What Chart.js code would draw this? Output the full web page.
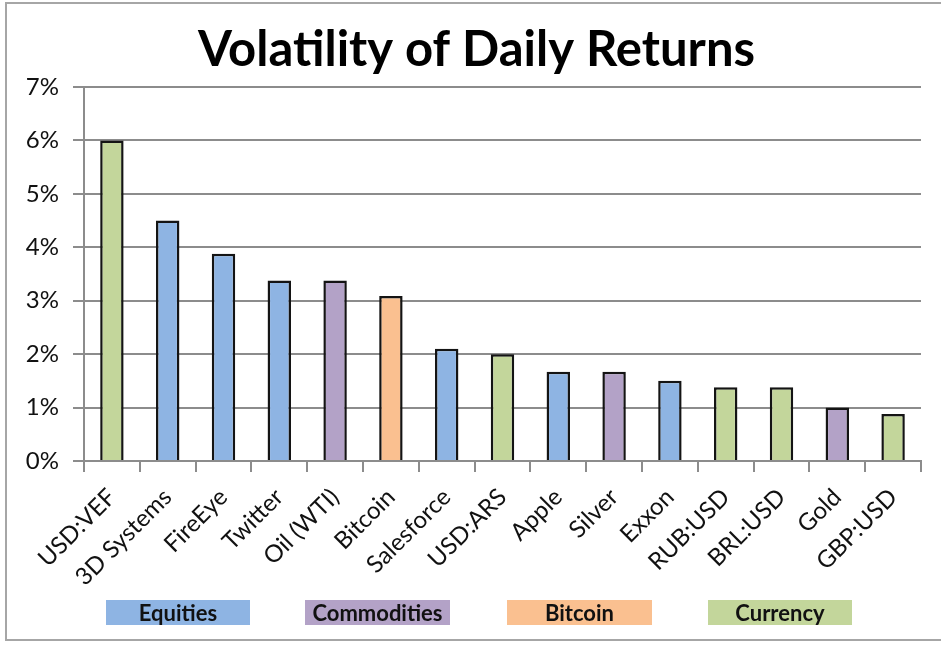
<!DOCTYPE html>
<html>
<head>
<meta charset="utf-8">
<script src="https://cdn.jsdelivr.net/npm/chart.js@4.4.1/dist/chart.umd.min.js"></script>
<style>
  html, body { margin: 0; padding: 0; background: #fff; }
  #wrap { position: relative; width: 941px; height: 645px; overflow: hidden; background: #fff; }
  #frame { position: absolute; left: 5px; top: 2px; width: 950px; height: 639px; border: 2px solid #a6a6a6; box-sizing: border-box; }
  #c { position: absolute; left: 0; top: 0; }
  .lg { position: absolute; top: 600px; height: 25px; line-height: 25px; text-align: center;
        font-family: Lato, "Open Sans", sans-serif; font-size: 22px; font-weight: bold; color: #111; white-space: nowrap; }
</style>
</head>
<body>
<div id="wrap">
  <div id="frame"></div>
  <canvas id="c" width="941" height="645"></canvas>
  <div id="legend"></div>
</div>
<script>
const categories = ["USD:VEF", "3D Systems", "FireEye", "Twitter", "Oil (WTI)", "Bitcoin", "Salesforce", "USD:ARS", "Apple", "Silver", "Exxon", "RUB:USD", "BRL:USD", "Gold", "GBP:USD"];
const volatility = [6.0, 4.5, 3.88, 3.38, 3.38, 3.09, 2.1, 2.0, 1.67, 1.67, 1.5, 1.38, 1.38, 1.0, 0.88];
const assetClass = ["Currency", "Equities", "Equities", "Equities", "Commodities", "Bitcoin", "Equities", "Currency", "Equities", "Commodities", "Equities", "Currency", "Currency", "Commodities", "Currency"];
const legendGroups = ["Equities", "Commodities", "Bitcoin", "Currency"];
const yTicks = [0, 1, 2, 3, 4, 5, 6, 7];

const groupColors = { Equities: "#8EB4E3", Commodities: "#B3A2C7", Bitcoin: "#FAC090", Currency: "#C3D69B" };
const legendPos = { Equities: [106, 144], Commodities: [305, 145], Bitcoin: [507, 145], Currency: [708, 144] };

const legend = document.getElementById("legend");
legendGroups.forEach(g => {
  const d = document.createElement("div");
  d.className = "lg";
  d.style.left = legendPos[g][0] + "px";
  d.style.width = legendPos[g][1] + "px";
  d.style.background = groupColors[g];
  d.textContent = g;
  legend.appendChild(d);
});

const FONT = "Lato, 'Open Sans', sans-serif";

new Chart(document.getElementById("c"), {
  type: "bar",
  data: {
    labels: categories,
    datasets: [{
      data: volatility,
      backgroundColor: assetClass.map(a => groupColors[a]),
      borderColor: "#141414",
      borderWidth: 2.5,
      borderSkipped: "bottom",
      barPercentage: 0.42,
      categoryPercentage: 1.0
    }]
  },
  options: {
    responsive: false,
    animation: false,
    events: [],
    layout: { padding: { left: 12, right: 0, top: 0, bottom: 0 } },
    plugins: {
      legend: { display: false },
      tooltip: { enabled: false },
      title: {
        display: true,
        text: "Volatility of Daily Returns",
        color: "#000",
        font: { family: FONT, size: 49, weight: "bold", lineHeight: 1.2 },
        padding: { top: 21, bottom: 7.2 }
      }
    },
    scales: {
      x: {
        offset: true,
        grid: { display: true, offset: true, drawOnChartArea: false, drawTicks: true, tickLength: 11, color: "#8c8c8c", lineWidth: 2 },
        border: { display: true, color: "#8c8c8c", width: 2 },
        ticks: { color: "#111", font: { family: FONT, size: 24 }, minRotation: 45, maxRotation: 45, padding: 11, autoSkip: false },
        afterFit: s => { s.height = 184; }
      },
      y: {
        min: 0, max: 7,
        afterBuildTicks: s => { s.ticks = yTicks.map(v => ({ value: v })); },
        grid: { color: "#8c8c8c", lineWidth: 2, tickLength: 11 },
        border: { display: true, color: "#8c8c8c", width: 2 },
        ticks: { color: "#111", font: { family: FONT, size: 24 }, padding: 14, callback: v => v + "%" },
        afterFit: s => { s.width = 72; }
      },
      yRight: {
        position: "right",
        display: true,
        grid: { display: false, drawTicks: false },
        border: { display: false },
        ticks: { display: false },
        afterFit: s => { s.width = 20; }
      }
    }
  }
});
</script>
</body>
</html>
